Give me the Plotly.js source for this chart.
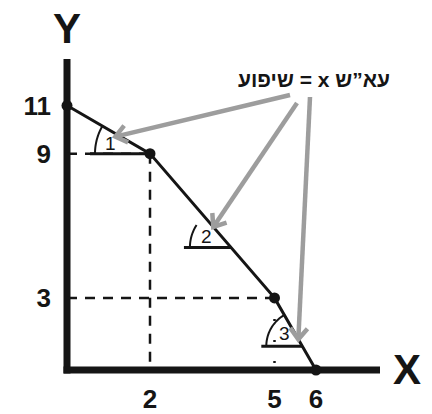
<!DOCTYPE html>
<html><head><meta charset="utf-8">
<script src="https://cdn.plot.ly/plotly-3.0.1.min.js"></script>
<style>html,body{margin:0;padding:0;background:#fff}#chart{width:432px;height:414px}</style>
</head><body><div id="chart"></div>
<script>
// ---- data ----
const xValues = [0, 2, 5, 6];
const yValues = [11, 9, 3, 0];
const xTickVals = [2, 5, 6];
const xTickText = ['2', '5', '6'];
const yTickVals = [11, 9, 3];
const yTickText = ['11', '9', '3'];
const guidePoints = [1, 2];          // indices of points with dashed guides
const angleLabels = ['1', '2', '3'];
const noteText = 'שיפוע = x עא”ש';
const axisNames = ['X', 'Y'];

// ---- geometry / style ----
const W = 432, H = 414;
const M = {l: 56, r: 48, t: 57, b: 36};
const PW = W - M.l - M.r, PH = H - M.t - M.b;
const SX = 41.5, SY = 24.04;          // px per unit
const X0PX = 67, Y0PX = 370;          // pixel of origin
const xr = [(M.l - X0PX) / SX, (W - M.r - X0PX) / SX];
const yr = [(Y0PX - (H - M.b)) / SY, (Y0PX - M.t) / SY];
const px = x => X0PX + x * SX, py = y => Y0PX - y * SY;
const dx = p => (p - X0PX) / SX, dy = p => (Y0PX - p) / SY;
const paperX = p => (p - M.l) / PW, paperY = p => 1 - (p - M.t) / PH;

const FONT = 'Liberation Sans, Arial, Helvetica, sans-serif';
const INK = '#151515', GREY = '#9d9d9d';

const shapes = [];
const annotations = [];

// axes (thick lines)
shapes.push({type: 'line', layer: 'below', xref: 'x', yref: 'y', x0: 0, x1: 0, y0: dy(373.5), y1: dy(59), line: {color: INK, width: 7}});
shapes.push({type: 'line', layer: 'below', xref: 'x', yref: 'y', x0: dx(63.5), x1: dx(380), y0: 0, y1: 0, line: {color: INK, width: 7}});

// dashed guides
guidePoints.forEach((i, k) => {
  const gx = xValues[i], gy = yValues[i];
  shapes.push({type: 'line', layer: 'below', xref: 'x', yref: 'y', x0: 0, x1: gx, y0: gy, y1: gy, line: {color: INK, width: 2.5, dash: '10px,8px'}});
  shapes.push({type: 'line', layer: 'below', xref: 'x', yref: 'y', x0: gx, x1: gx, y0: gy, y1: 0,
    line: {color: INK, width: 2.5, dash: k === 0 ? '10px,8px' : '2px,19px'}});
});

// angle markers
const angleCfg = [
  {seg: 0, frac: 1.0, len: 60, r: 55, end: null, lab: [-40, -10], tip: 40, tipOff: 3},
  {seg: 1, frac: 0.65, len: 47, r: 41, end: 147, lab: [-24, -11], tip: 27, tipOff: 0},
  {seg: 2, frac: 0.67, len: 41, r: 36, end: null, lab: [-18, -13], tip: 8, tipOff: 0}
];
const tails = [[290, 95], [297, 103], [310, 97]];
const tips = [];
angleCfg.forEach((c, k) => {
  const ax = px(xValues[c.seg]), ay = py(yValues[c.seg]);
  const bx = px(xValues[c.seg + 1]), by = py(yValues[c.seg + 1]);
  const vx = ax + (bx - ax) * c.frac, vy = ay + (by - ay) * c.frac;
  const ux = (ax - bx) / Math.hypot(ax - bx, ay - by), uy = (ay - by) / Math.hypot(ax - bx, ay - by);
  const lineDeg = Math.atan2(-uy, ux) * 180 / Math.PI;
  const endDeg = c.end === null ? lineDeg : c.end;
  shapes.push({type: 'line', layer: 'below', xref: 'x', yref: 'y', x0: dx(vx - c.len), x1: dx(vx), y0: dy(vy), y1: dy(vy), line: {color: INK, width: 3}});
  let path = '';
  const n = 30;
  for (let i = 0; i <= n; i++) {
    const a = (180 + (endDeg - 180) * i / n) * Math.PI / 180;
    const qx = vx + c.r * Math.cos(a), qy = vy - c.r * Math.sin(a);
    path += (i ? ' L ' : 'M ') + dx(qx).toFixed(4) + ',' + dy(qy).toFixed(4);
  }
  shapes.push({type: 'path', layer: 'below', xref: 'x', yref: 'y', path: path, line: {color: INK, width: 2}});
  annotations.push({xref: 'x', yref: 'y', x: dx(vx + c.lab[0]), y: dy(vy + c.lab[1]), xanchor: 'center', yanchor: 'middle',
    text: angleLabels[k], showarrow: false, font: {family: FONT, size: 19, color: INK}});
  tips.push([vx + ux * c.tip, vy + uy * c.tip + c.tipOff]);
});

// grey arrows
tips.forEach((t, k) => {
  const [tx, ty] = tails[k];
  shapes.push({type: 'line', layer: 'above', xref: 'x', yref: 'y', x0: dx(tx), y0: dy(ty), x1: dx(t[0]), y1: dy(t[1]), line: {color: GREY, width: 4.5}});
  const d = Math.hypot(t[0] - tx, t[1] - ty), ux = (t[0] - tx) / d, uy = (t[1] - ty) / d;
  const ang = 38 * Math.PI / 180, al = 14;
  const rot = s => [ux * Math.cos(s) - uy * Math.sin(s), ux * Math.sin(s) + uy * Math.cos(s)];
  const r1 = rot(ang), r2 = rot(-ang);
  const p = 'M ' + dx(t[0] - al * r1[0]) + ',' + dy(t[1] - al * r1[1]) + ' L ' + dx(t[0]) + ',' + dy(t[1]) + ' L ' + dx(t[0] - al * r2[0]) + ',' + dy(t[1] - al * r2[1]);
  shapes.push({type: 'path', layer: 'above', xref: 'x', yref: 'y', path: p, line: {color: GREY, width: 4.5}});
});

// texts
const mid = {xanchor: 'center', yanchor: 'middle', showarrow: false, xref: 'paper', yref: 'paper'};
annotations.push(Object.assign({x: paperX(314), y: paperY(79), text: noteText,
  font: {family: FONT, size: 21, weight: 'bold', color: INK}}, mid));
annotations.push(Object.assign({x: paperX(407), y: paperY(369), text: axisNames[0],
  font: {family: FONT, size: 42, weight: 'bold', color: INK}}, mid));
annotations.push(Object.assign({x: paperX(67), y: paperY(28), text: axisNames[1],
  font: {family: FONT, size: 42, weight: 'bold', color: INK}}, mid));

const trace = {
  x: xValues, y: yValues, type: 'scatter', mode: 'lines+markers', cliponaxis: false,
  line: {color: INK, width: 3}, marker: {size: 11, color: INK}, hoverinfo: 'skip'
};

const tickFont = {family: FONT, size: 26, weight: 'bold', color: INK};
const layout = {
  width: W, height: H, margin: M, showlegend: false,
  paper_bgcolor: '#fff', plot_bgcolor: '#fff',
  xaxis: {range: xr, showgrid: false, zeroline: false, showline: false, ticks: '',
    tickmode: 'array', tickvals: xTickVals, ticktext: xTickText, tickfont: tickFont, ticklabelstandoff: 3, fixedrange: true},
  yaxis: {range: yr, showgrid: false, zeroline: false, showline: false, ticks: '',
    tickmode: 'array', tickvals: yTickVals, ticktext: yTickText, tickfont: tickFont, ticklabelstandoff: 4, fixedrange: true},
  shapes: shapes, annotations: annotations
};
Plotly.newPlot('chart', [trace], layout, {displayModeBar: false, staticPlot: true});
</script></body></html>
